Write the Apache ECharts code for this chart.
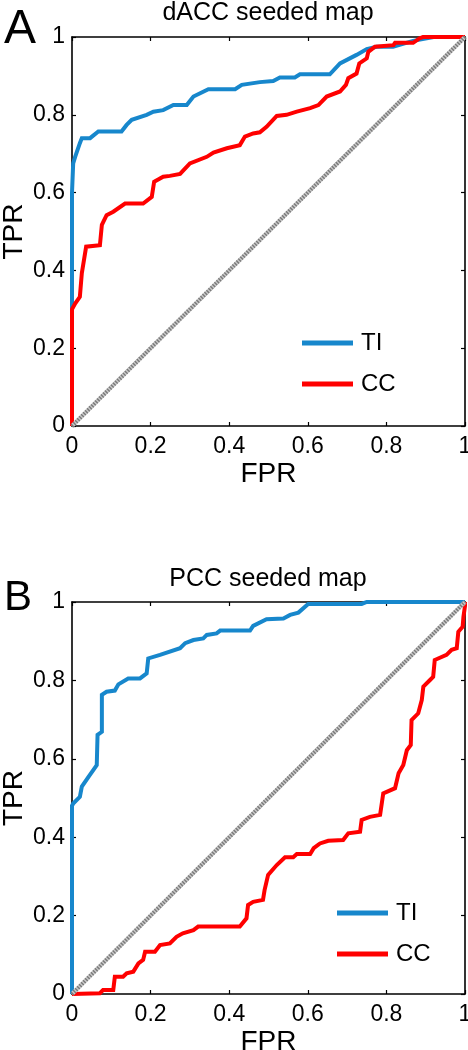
<!DOCTYPE html>
<html>
<head>
<meta charset="utf-8">
<script src="https://cdn.jsdelivr.net/npm/echarts@6/dist/echarts.min.js"></script>
<style>
html,body{margin:0;padding:0;background:#fff;}
#chart{width:468px;height:1050px;}
</style>
</head>
<body>
<div id="chart"></div>
<script>
// ---- data (FPR, TPR) ----
const panelTitles = ['dACC seeded map', 'PCC seeded map'];
const panelLetters = ['A', 'B'];
const seriesNames = ['TI', 'CC'];
const tickValues = [0, 0.2, 0.4, 0.6, 0.8, 1];
const chanceLine = [[0, 0], [1, 1]];

const dAccTI = [[0,0],[0,0.6],[0.003,0.675],[0.008,0.692],[0.02,0.727],[0.025,0.74],[0.046,0.74],[0.067,0.757],[0.126,0.757],[0.139,0.774],[0.152,0.787],[0.19,0.8],[0.207,0.808],[0.232,0.812],[0.258,0.825],[0.292,0.825],[0.309,0.847],[0.347,0.866],[0.415,0.866],[0.432,0.877],[0.478,0.884],[0.512,0.887],[0.529,0.896],[0.567,0.896],[0.58,0.904],[0.656,0.904],[0.682,0.932],[0.724,0.954],[0.75,0.969],[0.775,0.975],[0.817,0.975],[0.868,0.99],[0.92,1],[1,1]];

const dAccCC = [[0,0],[0,0.3],[0.008,0.315],[0.02,0.332],[0.025,0.393],[0.036,0.461],[0.071,0.465],[0.076,0.517],[0.088,0.542],[0.105,0.551],[0.135,0.572],[0.181,0.572],[0.203,0.589],[0.209,0.628],[0.232,0.641],[0.249,0.643],[0.275,0.648],[0.3,0.675],[0.343,0.692],[0.36,0.703],[0.394,0.714],[0.427,0.722],[0.44,0.744],[0.461,0.752],[0.478,0.755],[0.495,0.769],[0.521,0.797],[0.546,0.8],[0.572,0.808],[0.606,0.817],[0.627,0.825],[0.648,0.847],[0.682,0.86],[0.697,0.877],[0.703,0.894],[0.724,0.906],[0.731,0.932],[0.75,0.945],[0.754,0.962],[0.771,0.975],[0.818,0.979],[0.822,0.985],[0.868,0.985],[0.885,0.997],[0.893,1],[1,1]];

const pccTI = [[0,0],[0,0.48],[0.003,0.486],[0.02,0.503],[0.025,0.529],[0.042,0.554],[0.063,0.584],[0.065,0.661],[0.076,0.669],[0.076,0.763],[0.088,0.771],[0.109,0.774],[0.118,0.79],[0.143,0.805],[0.173,0.805],[0.19,0.818],[0.194,0.856],[0.224,0.865],[0.275,0.882],[0.288,0.895],[0.309,0.903],[0.334,0.907],[0.343,0.916],[0.368,0.92],[0.377,0.927],[0.453,0.927],[0.461,0.939],[0.495,0.956],[0.538,0.958],[0.555,0.967],[0.576,0.973],[0.601,0.995],[0.737,0.995],[0.75,1],[1,1]];

const pccCC = [[0,0],[0.071,0.002],[0.079,0.01],[0.105,0.01],[0.109,0.044],[0.13,0.044],[0.139,0.053],[0.156,0.057],[0.169,0.078],[0.181,0.087],[0.186,0.108],[0.211,0.108],[0.224,0.125],[0.249,0.129],[0.266,0.146],[0.282,0.155],[0.309,0.163],[0.321,0.172],[0.427,0.172],[0.444,0.193],[0.448,0.227],[0.461,0.235],[0.486,0.24],[0.49,0.265],[0.499,0.304],[0.521,0.329],[0.542,0.349],[0.563,0.349],[0.572,0.357],[0.606,0.357],[0.615,0.372],[0.631,0.384],[0.652,0.391],[0.69,0.393],[0.703,0.41],[0.733,0.414],[0.737,0.444],[0.758,0.452],[0.784,0.457],[0.792,0.512],[0.822,0.525],[0.831,0.563],[0.843,0.584],[0.852,0.622],[0.862,0.635],[0.864,0.699],[0.881,0.716],[0.89,0.75],[0.894,0.784],[0.911,0.801],[0.919,0.809],[0.923,0.852],[0.953,0.865],[0.966,0.878],[0.979,0.882],[0.983,0.924],[0.994,0.937],[0.996,0.962],[1,0.99],[1,1]];

// ---- styling / layout ----
const FONT = 'Liberation Sans, Arial, Helvetica, sans-serif';
const BLUE = '#1787cc';
const RED = '#ff0000';
const grids = [
  {left: 72, top: 37, width: 393, height: 389, containLabel: false, outerBoundsMode: 'none'},
  {left: 72, top: 602, width: 393, height: 392, containLabel: false, outerBoundsMode: 'none'}
];
const fmt = v => String(+(+v).toFixed(1));

function axisPair(gi, kind) {
  const base = {
    gridIndex: gi, type: 'value', min: 0, max: 1, interval: 0.2,
    splitLine: {show: false},
    axisLine: {show: true, onZero: false, lineStyle: {color: '#000', width: 1.6}},
    axisTick: {show: true, inside: true, length: 4, lineStyle: {color: '#000', width: 1.2}}
  };
  if (kind === 'x') {
    return [
      Object.assign({}, base, {
        position: 'bottom', name: 'FPR', nameLocation: 'middle', nameGap: 34, nameMoveOverlap: false,
        nameTextStyle: {fontFamily: FONT, fontSize: 28, color: '#000'},
        axisLabel: {formatter: fmt, fontFamily: FONT, fontSize: 23, color: '#000', margin: 9, hideOverlap: false}
      }),
      Object.assign({}, base, {position: 'top', axisLabel: {show: false}})
    ];
  }
  return [
    Object.assign({}, base, {
      position: 'left', name: 'TPR', nameLocation: 'middle', nameGap: 44, nameMoveOverlap: false,
      nameTextStyle: {fontFamily: FONT, fontSize: 28, color: '#000'},
      axisLabel: {formatter: fmt, fontFamily: FONT, fontSize: 23, color: '#000', margin: 7, hideOverlap: false}
    }),
    Object.assign({}, base, {position: 'right', axisLabel: {show: false}})
  ];
}

const xAxes = [].concat(axisPair(0, 'x'), axisPair(1, 'x'));
const yAxes = [].concat(axisPair(0, 'y'), axisPair(1, 'y'));

function rocSeries(name, data, color, axisIdx) {
  return {
    name: name, type: 'line', data: data, xAxisIndex: axisIdx, yAxisIndex: axisIdx,
    showSymbol: false, symbol: 'none', clip: false, animation: false,
    lineStyle: {color: color, width: 4, join: 'miter'}, itemStyle: {color: color}
  };
}
function chanceSeries(axisIdx) {
  return [
    {type: 'line', data: chanceLine, xAxisIndex: axisIdx, yAxisIndex: axisIdx, showSymbol: false,
     symbol: 'none', animation: false, silent: true, lineStyle: {color: '#c9c9c9', width: 4}},
    {type: 'line', data: chanceLine, xAxisIndex: axisIdx, yAxisIndex: axisIdx, showSymbol: false,
     symbol: 'none', animation: false, silent: true, lineStyle: {color: '#7a7a7a', width: 4, type: [1.4, 1.4]}}
  ];
}

const series = [].concat(
  [rocSeries(seriesNames[0], dAccTI, BLUE, 0), rocSeries(seriesNames[1], dAccCC, RED, 0)],
  chanceSeries(0),
  [rocSeries(seriesNames[0], pccTI, BLUE, 2), rocSeries(seriesNames[1], pccCC, RED, 2)],
  chanceSeries(2)
);

function legendItem(name, left, top) {
  return {
    data: [name], left: left, top: top, padding: 0, icon: 'rect',
    itemWidth: 51, itemHeight: 5, selectedMode: false,
    textStyle: {fontFamily: FONT, fontSize: 24, color: '#000', padding: [0, 0, 0, 3]}
  };
}

const titleStyle = {fontFamily: FONT, fontSize: 25, fontWeight: 'normal', color: '#000'};

const option = {
  backgroundColor: '#fff',
  animation: false,
  title: [
    {text: panelLetters[0], left: 4, top: 6, padding: 0, textStyle: {fontFamily: FONT, fontSize: 48, fontWeight: 'normal', color: '#000'}},
    {text: panelTitles[0], left: 268, top: 1, padding: 0, textAlign: 'center', textStyle: titleStyle},
    {text: panelLetters[1], left: 4, top: 577, padding: 0, textStyle: {fontFamily: FONT, fontSize: 42, fontWeight: 'normal', color: '#000'}},
    {text: panelTitles[1], left: 268, top: 567, padding: 0, textAlign: 'center', textStyle: titleStyle}
  ],
  legend: [
    legendItem(seriesNames[0], 302, 331),
    legendItem(seriesNames[1], 302, 372),
    legendItem(seriesNames[0], 337, 901),
    legendItem(seriesNames[1], 337, 942)
  ],
  grid: grids,
  xAxis: xAxes,
  yAxis: yAxes,
  series: series
};

const chart = echarts.init(document.getElementById('chart'), null, {renderer: 'canvas'});
chart.setOption(option);
</script>
</body>
</html>
